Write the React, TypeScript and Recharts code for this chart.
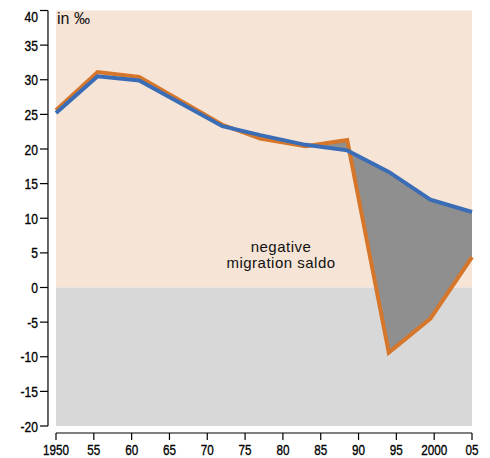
import React from 'react';
import {
  ComposedChart,
  Line,
  Area,
  XAxis,
  YAxis,
  ReferenceArea,
  ReferenceLine,
} from 'recharts';

// years of the data points
const years = [1950, 1955.5, 1961, 1972, 1977, 1983, 1988.5, 1994, 1999.5, 2005];
// blue line
const blueValues = [25.2, 30.5, 29.9, 23.3, 22.0, 20.6, 19.8, 16.7, 12.7, 10.9];
// orange line
const orangeValues = [25.6, 31.1, 30.4, 23.5, 21.5, 20.4, 21.3, -9.4, -4.5, 4.4];
// gap is filled from this year on
const gapFrom = 1983;

const xTicks = [1950, 1955, 1960, 1965, 1970, 1975, 1980, 1985, 1990, 1995, 2000, 2005];
const xTickLabels = ['1950', '55', '60', '65', '70', '75', '80', '85', '90', '95', '2000', '05'];
const yTicks = [-20, -15, -10, -5, 0, 5, 10, 15, 20, 25, 30, 35, 40];

const data = years.map((year, i) => ({
  year,
  blue: blueValues[i],
  orange: orangeValues[i],
  gap: year >= gapFrom ? [orangeValues[i], blueValues[i]] : null,
}));

const textFont = "'Liberation Sans', Arial, sans-serif";

// narrow tick labels (the original uses a condensed face)
const XTick = (props: any) => {
  const { x, y, payload } = props;
  const label = xTickLabels[xTicks.indexOf(payload.value)];
  return (
    <g transform={`translate(${x},${y}) scale(0.78,1)`}>
      <text x={0} y={0} dy={12.8} textAnchor="middle" fill="#000" stroke="#000" strokeWidth={0.35} fontSize={15} fontFamily={textFont}>
        {label}
      </text>
    </g>
  );
};

const YTick = (props: any) => {
  const { x, y, payload } = props;
  // the top label sits below its tick so it is not cut off
  const shift = payload.value === 40 ? 5.7 : 0;
  return (
    <g transform={`translate(${x},${y + shift}) scale(0.78,1)`}>
      <text x={0} y={0} dy={5.5} textAnchor="end" fill="#000" stroke="#000" strokeWidth={0.35} fontSize={15.5} fontFamily={textFont}>
        {payload.value}
      </text>
    </g>
  );
};

const App: React.FC = () => {
  return (
    <div style={{ position: 'absolute', left: 0, top: 0, width: 490, height: 458 }}>
      <ComposedChart
        width={490}
        height={458}
        data={data}
        margin={{ top: 10.5, right: 18, bottom: 0, left: 0 }}
      >
        <XAxis
          dataKey="year"
          type="number"
          domain={[1950, 2005]}
          ticks={xTicks}
          padding={{ left: 8, right: 0 }}
          axisLine={false}
          tickLine={{ stroke: '#000', strokeWidth: 1.2 }}
          tickSize={7}
          tickMargin={2}
          height={25}
          interval={0}
          tick={<XTick />}
        />
        <YAxis
          type="number"
          domain={[-20, 40]}
          ticks={yTicks}
          padding={{ top: 0, bottom: 7 }}
          axisLine={false}
          tickLine={{ stroke: '#000', strokeWidth: 1.2 }}
          tickSize={8}
          tickMargin={2}
          width={48}
          interval={0}
          tick={<YTick />}
        />
        <ReferenceArea x1={1950} x2={2005} y1={0} y2={40} fill="#f6e4d6" fillOpacity={1} stroke="none" />
        <ReferenceArea x1={1950} x2={2005} y1={-20} y2={0} fill="#d8d8d8" fillOpacity={1} stroke="none" />
        <ReferenceLine
          segment={[{ x: 1950, y: -21.01 }, { x: 2005, y: -21.01 }]}
          stroke="#000"
          strokeWidth={1.2}
          ifOverflow="visible"
        />
        <ReferenceLine
          segment={[{ x: 1948.94, y: -20 }, { x: 1948.94, y: 40 }]}
          stroke="#000"
          strokeWidth={1.2}
          ifOverflow="visible"
        />
        <Area
          type="linear"
          dataKey="gap"
          fill="#8f8f8f"
          fillOpacity={1}
          stroke="none"
          isAnimationActive={false}
        />
        <Line
          type="linear"
          dataKey="orange"
          stroke="#d6762a"
          strokeWidth={4}
          dot={false}
          isAnimationActive={false}
        />
        <Line
          type="linear"
          dataKey="blue"
          stroke="#3b6db6"
          strokeWidth={4}
          dot={false}
          isAnimationActive={false}
        />
      </ComposedChart>
      <div
        style={{
          position: 'absolute',
          left: 57,
          top: 10,
          fontFamily: textFont,
          fontSize: 16,
          color: '#111',
        }}
      >
        in ‰
      </div>
      <div
        style={{
          position: 'absolute',
          left: 181,
          top: 239,
          width: 200,
          textAlign: 'center',
          fontFamily: textFont,
          fontSize: 15,
          lineHeight: '16px',
          letterSpacing: 0.5,
          color: '#111',
        }}
      >
        negative
        <br />
        migration saldo
      </div>
    </div>
  );
};

export default App;
